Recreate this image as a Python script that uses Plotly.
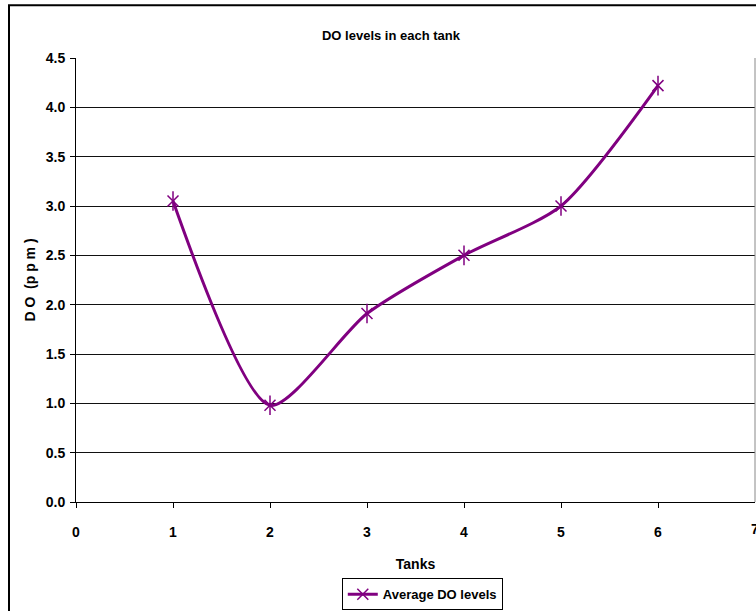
import plotly.graph_objects as go

# Average dissolved-oxygen readings per tank
tanks = [1, 2, 3, 4, 5, 6]
avg_do = [3.05, 0.98, 1.91, 2.50, 3.00, 4.22]

x_ticks = [0, 1, 2, 3, 4, 5, 6, 7]
y_ticks = [0.0, 0.5, 1.0, 1.5, 2.0, 2.5, 3.0, 3.5, 4.0, 4.5]

FONT = "Liberation Sans, Arial, sans-serif"
PURPLE = "#800080"

fig = go.Figure()
# smoothed line with the diagonal strokes of the star marker
fig.add_trace(go.Scatter(
    x=tanks, y=avg_do,
    mode="lines+markers",
    name="<b>Average DO levels</b>",
    line=dict(color=PURPLE, width=3, shape="spline", smoothing=0.7),
    marker=dict(symbol="x-thin-open", size=11, color=PURPLE,
                line=dict(color=PURPLE, width=1.5)),
))
# vertical stroke completing the star marker
fig.add_trace(go.Scatter(
    x=tanks, y=avg_do, mode="markers", showlegend=False, hoverinfo="skip",
    marker=dict(symbol="line-ns-open", size=14, color=PURPLE,
                line=dict(color=PURPLE, width=1.5)),
))

fig.update_layout(
    width=756, height=611,
    margin=dict(l=76, r=1, t=58, b=107),
    paper_bgcolor="white", plot_bgcolor="white",
    font=dict(family=FONT, size=14, color="black"),
    title=dict(text="<b>DO levels in each tank</b>", x=391 / 756, xanchor="center",
               y=1 - 35 / 611, yanchor="middle", font=dict(size=13)),
    showlegend=True,
    legend=dict(orientation="h", x=0.51, xanchor="center", y=-0.172, yanchor="top",
                bordercolor="black", borderwidth=1, font=dict(size=13, family=FONT),
                itemwidth=30),
    xaxis=dict(range=[0, 7], tickvals=x_ticks[:-1],
               ticktext=[f"<b>{v}</b>" for v in x_ticks[:-1]],
               showgrid=False, zeroline=False, showline=True, linecolor="black", linewidth=1,
               ticks="outside", ticklen=5, tickcolor="black", ticklabelstandoff=12,
               automargin=False,
               title=dict(text="<b>Tanks</b>", standoff=20, font=dict(size=14))),
    yaxis=dict(range=[0, 4.5], tickvals=y_ticks,
               ticktext=[f"<b>{v:.1f}</b>" for v in y_ticks],
               showgrid=True, gridcolor="#111", gridwidth=1, zeroline=False,
               showline=True, linecolor="black", linewidth=1,
               ticks="outside", ticklen=5, tickcolor="black", ticklabelstandoff=2,
               automargin=False,
               title=dict(text="<b>D O  (p p m )</b>", standoff=6, font=dict(size=14))),
)

# last x tick label sits on the frame edge
fig.add_annotation(x=x_ticks[-1], y=0, xref="x", yref="y", text=f"<b>{x_ticks[-1]}</b>",
                   showarrow=False, yanchor="top", yshift=-17, font=dict(size=14))

# right edge of the plot area
fig.add_shape(type="line", xref="paper", yref="paper", x0=1, x1=1, y0=0, y1=1,
              line=dict(color="#888", width=1))
# outer chart frame
fig.add_shape(type="rect", xref="paper", yref="paper",
              x0=(9 - 76) / 679, x1=1.2, y0=-0.5, y1=(504 - 5) / 446,
              line=dict(color="black", width=2), layer="below")

fig.write_html("out.html")
